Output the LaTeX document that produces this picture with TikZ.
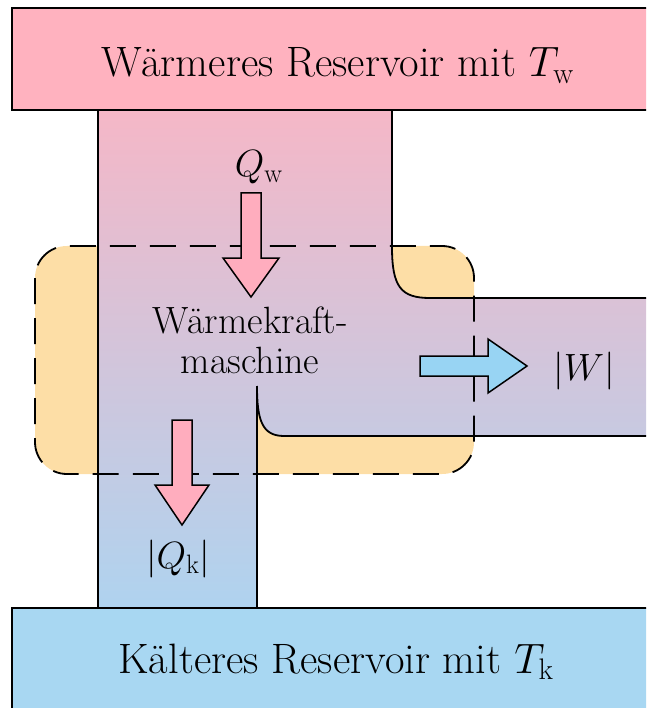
\RequirePackage{fix-cm}
\documentclass[tikz,border=0pt]{standalone}
\definecolor{respink}{HTML}{FFB2BF}
\definecolor{resblue}{HTML}{A8D7F2}
\definecolor{engorange}{HTML}{FDDEA6}
\definecolor{chtop}{HTML}{F5B7C7}
\definecolor{chmid}{HTML}{D6C2D8}
\definecolor{chbot}{HTML}{AFD3EF}
\definecolor{arrpink}{HTML}{FFADBE}
\definecolor{arrblue}{HTML}{98D4F3}
\begin{document}
\begin{tikzpicture}[x=1pt,y=-1pt,
  outline/.style={draw=black,line width=1.8pt},
  lbl/.style={font=\fontsize{38}{44}\selectfont,inner sep=0pt,anchor=base},
  reslbl/.style={font=\fontsize{42.5}{48}\selectfont,inner sep=0pt,anchor=base},
  arrowshape/.style={draw=black,line width=1.5pt,line join=miter},
  enginebox/.style={draw=black,line width=1.8pt,dash pattern=on 26pt off 14pt,rounded corners=32pt}]
\useasboundingbox (0,0) rectangle (646,708);
\clip (0,0) rectangle (646,708);
% engine fill
\fill[engorange,rounded corners=32pt] (35,246) rectangle (474,474);
% working channel
\path[outline, top color=chtop, middle color=chmid, bottom color=chbot]
  (98,110) -- (392,110) -- (392,247) .. controls (392,287) and (401,298) .. (430,298)
  -- (660,298) -- (660,436) -- (284,436) .. controls (262,436) and (257,420) .. (257,386)
  -- (257,608) -- (98,608) -- cycle;
% reservoirs
\path[outline, fill=respink] (12,8) rectangle (660,110);
\path[outline, fill=resblue] (12,608) rectangle (660,720);
% engine boundary
\draw[enginebox] (35,246) rectangle (474,474);
% arrows
\path[arrowshape, fill=arrpink] (241,193) -- (261,193) -- (261,258) -- (279,258) -- (251,297) -- (223,258) -- (241,258) -- cycle;
\path[arrowshape, fill=arrpink] (172,420) -- (192,420) -- (192,485) -- (209,485) -- (182,525) -- (155,485) -- (172,485) -- cycle;
\path[arrowshape, fill=arrblue] (420,356) -- (488,356) -- (488,339) -- (527,366) -- (488,393) -- (488,376) -- (420,376) -- cycle;
% labels
\node[reslbl] (hot) at (338,77) {Wärmeres Reservoir mit $T_\mathrm{w}$};
\node[reslbl] (cold) at (336,673) {Kälteres Reservoir mit $T_\mathrm{k}$};
\node[lbl] (qw) at (259,177) {$Q_\mathrm{w}$};
\node[lbl] (eng1) at (250,333) {Wärmekraft-};
\node[lbl] (eng2) at (250,373) {maschine};
\node[lbl] (w) at (584,380) {$|W|$};
\node[lbl] (qk) at (178,568) {$|Q_\mathrm{k}|$};
\end{tikzpicture}
\end{document}
